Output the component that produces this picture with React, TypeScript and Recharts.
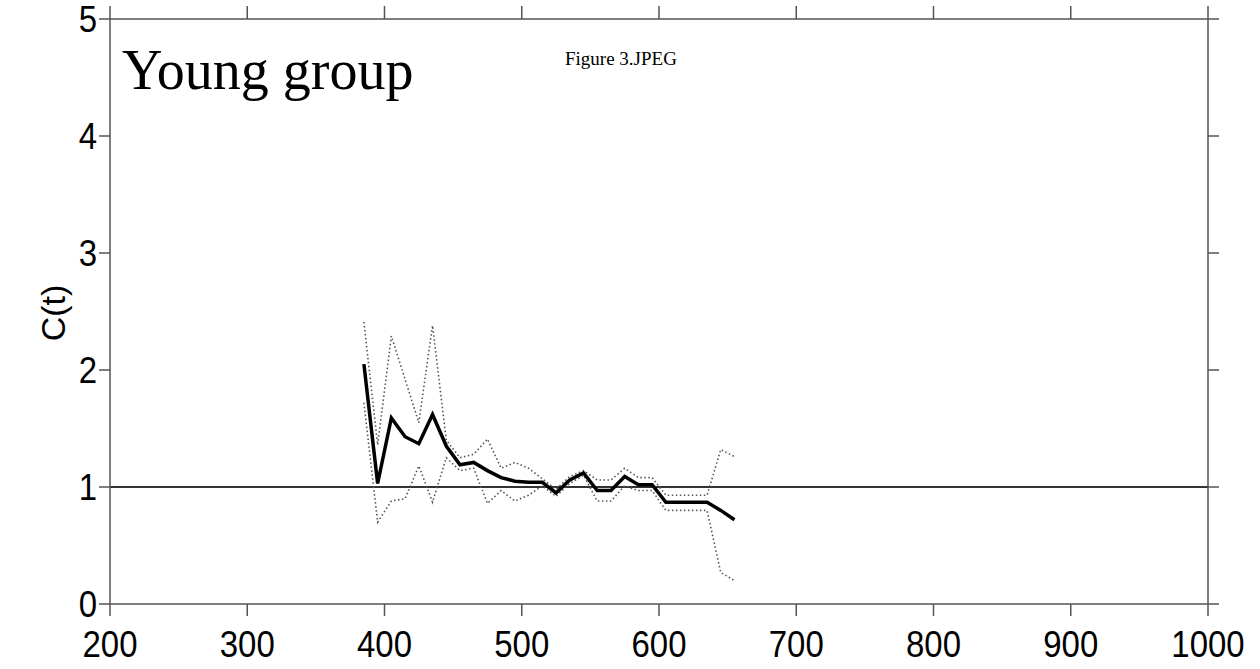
import React from 'react';
import {
  LineChart,
  Line,
  XAxis,
  YAxis,
  ReferenceLine,
} from 'recharts';

// ages (ms) and C(t) readings taken off the figure
const times = [
  385, 395, 405, 415, 425, 435, 445, 455, 465, 475, 485, 495, 505, 515,
  525, 535, 545, 555, 565, 575, 585, 595, 605, 615, 625, 635, 645, 655,
];
const meanC = [
  2.05, 1.03, 1.59, 1.43, 1.37, 1.62, 1.35, 1.19, 1.21, 1.14, 1.08, 1.05, 1.04, 1.04,
  0.95, 1.06, 1.12, 0.97, 0.97, 1.09, 1.02, 1.02, 0.87, 0.87, 0.87, 0.87, 0.8, 0.72,
];
const upperC = [
  2.41, 1.36, 2.29, 1.92, 1.55, 2.38, 1.4, 1.25, 1.28, 1.41, 1.16, 1.21, 1.16, 1.07,
  0.98, 1.09, 1.14, 1.06, 1.06, 1.16, 1.08, 1.08, 0.93, 0.93, 0.93, 0.93, 1.32, 1.26,
];
const lowerC = [
  1.72, 0.7, 0.88, 0.9, 1.18, 0.87, 1.25, 1.14, 1.16, 0.86, 0.97, 0.88, 0.93, 1.01,
  0.92, 1.03, 1.1, 0.88, 0.88, 1.01, 0.97, 0.97, 0.8, 0.8, 0.8, 0.8, 0.27, 0.2,
];
const xTicks = [200, 300, 400, 500, 600, 700, 800, 900, 1000];
const yTicks = [0, 1, 2, 3, 4, 5];

const chartData = times.map((t, i) => ({
  t,
  mean: meanC[i],
  upper: upperC[i],
  lower: lowerC[i],
}));

const SANS = '"Liberation Sans", Arial, sans-serif';
const SERIF = '"Liberation Serif", "Times New Roman", serif';
const AXIS = '#555';

const XTick = (props: any) => {
  const { x, y, payload } = props;
  return (
    <text
      transform={`translate(${x},${y}) scale(1,1.12)`}
      y={34.8}
      textAnchor="middle"
      fontFamily={SANS}
      fontSize={33}
      fill="#000"
    >
      {payload.value}
    </text>
  );
};

const YTick = (props: any) => {
  const { x, y, payload } = props;
  return (
    <text
      transform={`translate(${x},${y}) scale(1,1.12)`}
      y={12}
      textAnchor="end"
      fontFamily={SANS}
      fontSize={33}
      fill="#000"
    >
      {payload.value}
    </text>
  );
};

const blank = () => '';

export default function App() {
  return (
    <div style={{ position: 'absolute', left: 0, top: 0, width: 1260, height: 669, background: '#fff' }}>
      <LineChart
        width={1260}
        height={669}
        data={chartData}
        margin={{ top: 7, right: 40, bottom: 5, left: 0 }}
      >
        <XAxis
          dataKey="t"
          type="number"
          domain={[200, 1000]}
          ticks={xTicks}
          height={60}
          tickSize={12}
          tick={XTick}
          stroke={AXIS}
          strokeWidth={1.5}
        />
        <XAxis
          xAxisId="top"
          dataKey="t"
          orientation="top"
          type="number"
          domain={[200, 1000]}
          ticks={xTicks}
          height={12}
          tickSize={13}
          tickFormatter={blank}
          tick={{ fontSize: 1, fill: 'none' }}
          stroke={AXIS}
          strokeWidth={1.5}
        />
        <YAxis
          type="number"
          domain={[0, 5]}
          ticks={yTicks}
          width={110}
          tickSize={11}
          tick={YTick}
          stroke={AXIS}
          strokeWidth={1.5}
        />
        <YAxis
          yAxisId="right"
          orientation="right"
          type="number"
          domain={[0, 5]}
          ticks={yTicks}
          width={12}
          tickSize={11}
          tickFormatter={blank}
          tick={{ fontSize: 1, fill: 'none' }}
          stroke={AXIS}
          strokeWidth={1.5}
        />
        <ReferenceLine y={1} stroke="#333" strokeWidth={2} />
        {/* upper band drawn on the mirror axes so they get their ticks */}
        <Line
          xAxisId="top"
          yAxisId="right"
          type="linear"
          dataKey="upper"
          stroke="#555"
          strokeWidth={1.6}
          strokeDasharray="1.5 2.5"
          dot={false}
          isAnimationActive={false}
        />
        <Line
          type="linear"
          dataKey="lower"
          stroke="#555"
          strokeWidth={1.6}
          strokeDasharray="1.5 2.5"
          dot={false}
          isAnimationActive={false}
        />
        <Line
          type="linear"
          dataKey="mean"
          stroke="#000"
          strokeWidth={3.5}
          dot={false}
          isAnimationActive={false}
        />
      </LineChart>
      <svg
        width={1260}
        height={669}
        style={{ position: 'absolute', left: 0, top: 0, pointerEvents: 'none' }}
      >
        <text
          transform="translate(65,313) rotate(-90)"
          textAnchor="middle"
          fontFamily={SANS}
          fontSize={34}
          fill="#000"
        >
          C(t)
        </text>
        <text x={122} y={89} fontFamily={SERIF} fontSize={56} fill="#000">
          Young group
        </text>
        <text x={565} y={65} fontFamily={SERIF} fontSize={19} fill="#000">
          Figure 3.JPEG
        </text>
      </svg>
    </div>
  );
}
